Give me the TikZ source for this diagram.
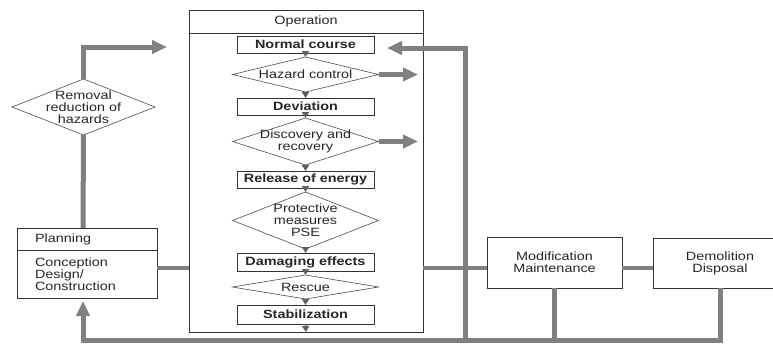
\documentclass[tikz,border=0pt]{standalone}
\usepackage{fontspec}
\setmainfont{Liberation Sans}[FakeStretch=1.2]
\usetikzlibrary{arrows.meta, positioning, shapes.geometric}
\definecolor{feedgray}{RGB}{128,128,128}
\definecolor{tipgray}{RGB}{95,95,95}
\tikzset{
  stage/.style={
    rectangle,
    draw=black!80,
    line width=0.8pt,
    inner sep=0pt,
    outer sep=0pt,
    text=black!85,
    align=center,
    font=\fontsize{12}{12}\selectfont
  },
  event/.style={
    stage,
    font=\bfseries\fontsize{12}{12}\selectfont,
    minimum width=137pt,
    minimum height=17pt
  },
  check/.style={
    diamond,
    draw=black!70,
    line width=0.6pt,
    inner xsep=-12pt,
    inner ysep=-4pt,
    outer sep=0pt,
    minimum width=146pt,
    text=black!85,
    align=center,
    font=\fontsize{12}{12}\selectfont
  },
  flow/.style={
    draw=tipgray,
    line width=1.5pt,
    -{Triangle[length=6pt,width=7pt]}
  },
  feed/.style={
    draw=feedgray,
    line width=5pt
  },
  feedarrow/.style={
    feed,
    -{Triangle[length=15pt,width=13pt]}
  }
}

\begin{document}
\begin{tikzpicture}[x=1pt, y=-1pt]
\useasboundingbox (0,0) rectangle (773,343);
\clip (0,0) rectangle (773,343);

% --- operation frame ---
\node (ophead) [stage, minimum width=234pt, minimum height=23pt] at (306,21.5) {Operation};
\node (operation) [stage, minimum width=234pt, minimum height=299pt, below=0pt of ophead] {};

% --- course of events ---
\node (normal) [event] at (305.5,44.5) {Normal course};
\node (hazard) [check, aspect=4.17, minimum height=35pt, below=4pt of normal] {Hazard control};
\node (deviation) [event, below=6pt of hazard] {Deviation};
\node (discovery) [check, aspect=3.1, minimum height=47pt, below=3pt of deviation] {Discovery and\\recovery};
\node (release) [event, below=6pt of discovery] {Release of energy};
\node (protect) [check, aspect=2.56, minimum height=57pt, below=4pt of release] {Protective\\measures\\PSE};
\node (damage) [event, minimum height=18pt, below=4pt of protect] {Damaging effects};
\node (rescue) [check, aspect=6.1, minimum height=24pt, below=4pt of damage] {Rescue};
\node (stab) [event, minimum height=19pt, below=6pt of rescue] {Stabilization};

% --- planning ---
\node (planhead) [stage, minimum width=140pt, minimum height=22pt, text width=104pt, align=left] at (87,239) {Planning};
\node (plan) [stage, minimum width=140pt, minimum height=48pt, text width=104pt, align=left, below=0pt of planhead] {Conception\\Design/\\Construction};
\node (removal) [check, aspect=2.55, minimum width=143pt, minimum height=56pt] at (83.5,107) {Removal\\reduction of\\hazards};

% --- later phases ---
\node (modif) [stage, minimum width=135pt, minimum height=51pt] at (554.5,262.5) {Modification\\Maintenance};
\node (demol) [stage, minimum width=134pt, minimum height=50pt] at (720,263) {Demolition\\Disposal};

% --- helper points ---
\coordinate (row) at (0,268);
\coordinate (exit) at (418,0);
\coordinate (toop) at (167,47);
\coordinate (loopL) at (83,340);
\coordinate (fb) at (465,340);

% --- flow inside operation ---
\foreach \a/\b in {normal/hazard.north, hazard/deviation.north, deviation/discovery.north, discovery/release.north, release/protect.north, protect/damage.north, damage/rescue.north, rescue/stab.north, stab/operation.south}
  \draw[flow] (\a.south) -- (\b);

% --- feedback lines ---
\draw[feed, line width=4pt] (row -| plan.east) -- (row -| operation.west);
\draw[feed, line width=4pt] (row -| operation.east) -- (row -| modif.west);
\draw[feed, line width=4pt] (row -| modif.east) -- (row -| demol.west);
\draw[feedarrow] (hazard.east) -- (hazard.east -| exit);
\draw[feedarrow] (discovery.east) -- (discovery.east -| exit);
\draw[feed] (loopL |- planhead.north) -- (removal.south);
\draw[feedarrow] (removal.north) |- (toop);
\draw[feed] (modif.south) -- (modif.south |- loopL);
\draw[feedarrow] (demol.south) |- (loopL) -- ([yshift=-3pt]loopL |- plan.south);
\draw[feedarrow, shorten >=13pt] (fb) |- ([yshift=-3.5pt]normal.east);

\end{tikzpicture}
\end{document}
